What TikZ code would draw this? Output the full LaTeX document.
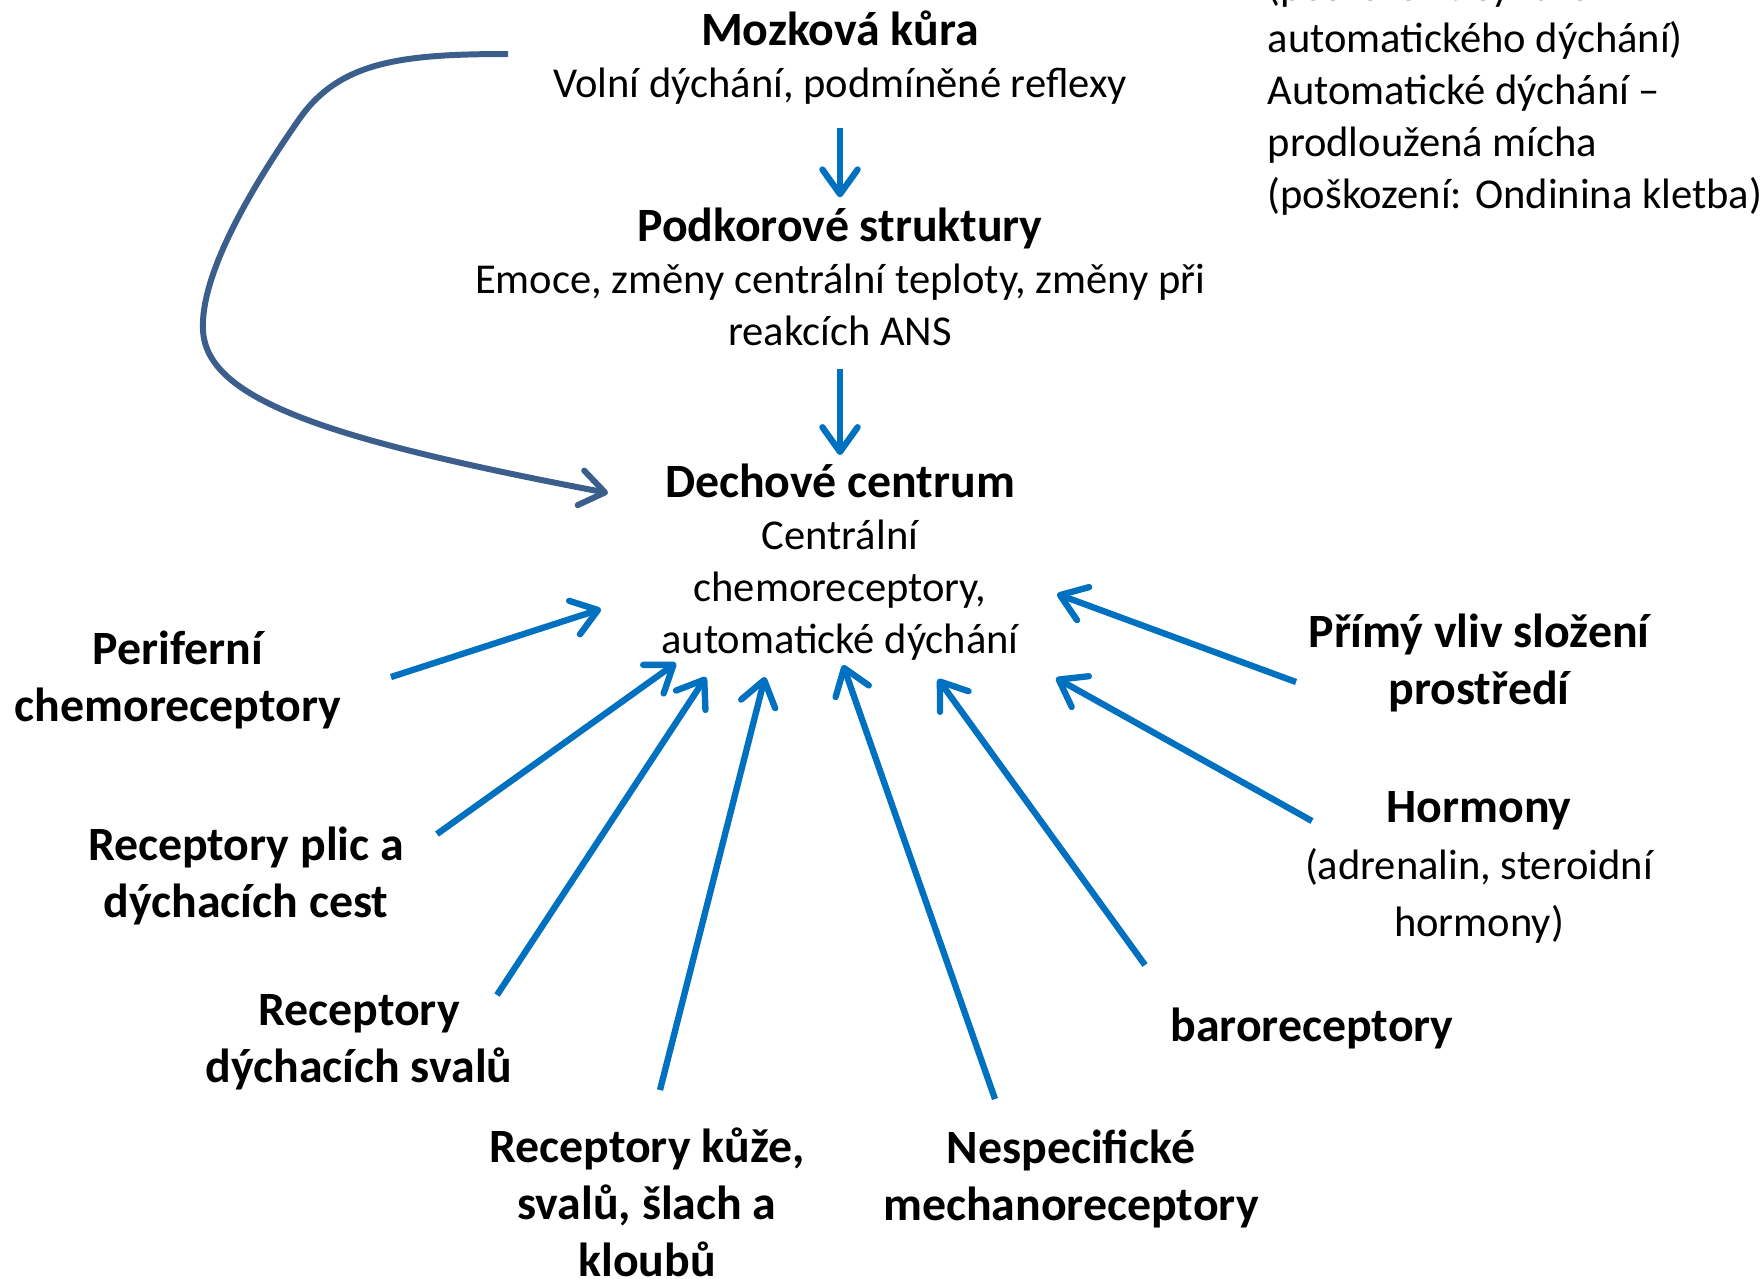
\documentclass[tikz,border=0pt]{standalone}
\usepackage{fontspec}
\setmainfont{Carlito}
\usetikzlibrary{arrows.meta}

\definecolor{sipka}{RGB}{0,112,192}
\definecolor{oblouk}{RGB}{59,94,140}

\newcommand{\velky}{\bfseries\fontsize{13.6}{16.2}\selectfont}
\newcommand{\maly}{\mdseries\fontsize{12.1}{14.8}\selectfont}

\tikzset{
  modra/.style={draw=sipka, line width=1.8pt, -{Straight Barb[length=7pt,width=10pt,round]}},
  zpet/.style={draw=oblouk, line width=1.7pt, -{Straight Barb[length=7pt,width=10pt,round]}},
  stred/.style={align=center, inner sep=0pt, font=\maly},
  stitek/.style={align=center, inner sep=0pt, font=\velky},
}

\begin{document}
\begin{tikzpicture}[x=0.01cm, y=-0.01cm]
    \useasboundingbox (0,0) rectangle (1764,1278);

    % Levels of control
    \node[stred] (mozek) at (840,58) {{\velky Mozková kůra}\\Volní dýchání, podmíněné reflexy};
    \node[stred] (podkora) at (840,277) {{\velky Podkorové struktury}\\Emoce, změny centrální teploty, změny při\\reakcích ANS};
    \node[stred] (centrum) at (840,562) {{\velky Dechové centrum}\\Centrální\\chemoreceptory,\\automatické dýchání};

    % Note in the corner
    \node[stred, align=left, anchor=west] (poznamka) at (1267,92) {(poškození: syndrom\\automatického dýchání)\\Automatické dýchání –\\prodloužená mícha\\(poškození: Ondinina kletba)};

    \draw[modra, shorten <=0.22cm, shorten >=0.1cm] (mozek.south) -- (podkora.north);
    \draw[modra, shorten <=0.22cm, shorten >=0.08cm] (podkora.south) -- (centrum.north);

    % Voluntary control
    \draw[zpet] (508,54) .. controls (400,54) and (340,62) .. (300,118)
        .. controls (260,175) and (200,270) .. (203,330)
        .. controls (206,400) and (330,440) .. (608,493);

    % Inputs
    \node[stitek] (periferni) at (178,680) {Periferní\\chemoreceptory};
    \node[stitek] (plice) at (246,876) {Receptory plic a\\dýchacích cest};
    \node[stitek] (svaly) at (359,1042) {Receptory\\dýchacích svalů};
    \node[stitek] (kuze) at (647,1202) {Receptory kůže,\\svalů, šlach a\\kloubů};
    \node[stitek] (nespec) at (1071,1179) {Nespecifické\\mechanoreceptory};
    \node[stitek] (baro) at (1312,1028) {baroreceptory};
    \node[stitek] (hormony) at (1479,867) {Hormony\\\maly(adrenalin, steroidní\\\maly hormony)};
    \node[stitek] (prostredi) at (1479,663) {Přímý vliv složení\\prostředí};

    \coordinate (per0) at (391,677);  \coordinate (per1) at (601,609);
    \coordinate (pl0) at (437,834);   \coordinate (pl1) at (676,663);
    \coordinate (sv0) at (497,995);   \coordinate (sv1) at (706,677);
    \coordinate (ku0) at (660,1090);  \coordinate (ku1) at (765,677);
    \coordinate (ne0) at (995,1099);  \coordinate (ne1) at (843,665);
    \coordinate (ba0) at (1145,965);  \coordinate (ba1) at (938,679);
    \coordinate (ho0) at (1312,821);  \coordinate (ho1) at (1056,678);
    \coordinate (pr0) at (1296,682);  \coordinate (pr1) at (1057,594);

    \foreach \a in {per,pl,sv,ku,ne,ba,ho,pr}
      \draw[modra] (\a0) -- (\a1);
\end{tikzpicture}
\end{document}
